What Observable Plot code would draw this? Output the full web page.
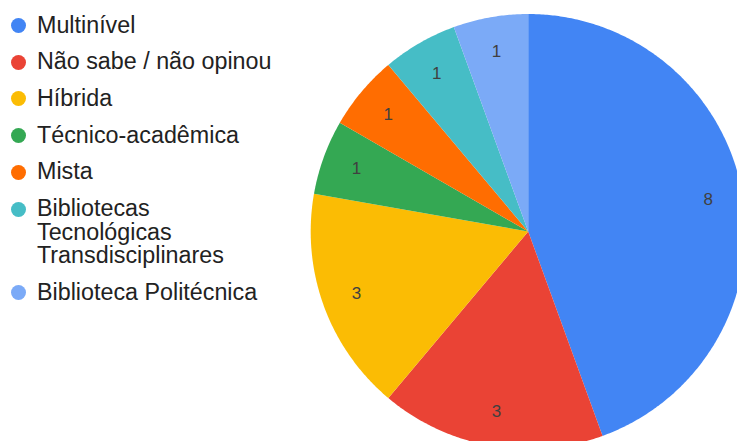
<!DOCTYPE html>
<html>
<head>
<meta charset="utf-8">
<script src="https://cdn.jsdelivr.net/npm/d3@7"></script>
<script src="https://cdn.jsdelivr.net/npm/@observablehq/plot@0.6"></script>
<style>
  html, body { margin: 0; padding: 0; background: #fff; overflow: hidden; }
  #wrap { position: relative; width: 737px; height: 441px; overflow: hidden; }
  #chart { position: absolute; left: 0; top: 0; }
  #chart svg { overflow: hidden; }
  #legend { position: absolute; left: 0; top: 13.6px; font-family: "Liberation Sans", Arial, sans-serif; font-size: 23.3px; line-height: 23.5px; color: #222; }
  .item { position: relative; padding-left: 37px; margin-bottom: 13.2px; white-space: nowrap; }
  .dot { position: absolute; left: 10.5px; top: 4.5px; width: 15px; height: 15px; border-radius: 50%; }
</style>
</head>
<body>
<div id="wrap">
  <div id="chart"></div>
  <div id="legend"></div>
</div>
<script>
const categories = ["Multinível", "Não sabe / não opinou", "Híbrida", "Técnico-acadêmica", "Mista", "Bibliotecas Tecnológicas Transdisciplinares", "Biblioteca Politécnica"];
const legendLabels = ["Multinível", "Não sabe / não opinou", "Híbrida", "Técnico-acadêmica", "Mista", "Bibliotecas<br>Tecnológicas<br>Transdisciplinares", "Biblioteca Politécnica"];
const values = [8, 3, 3, 1, 1, 1, 1];
const colors = ["#4285F4", "#EA4335", "#FBBC04", "#34A853", "#FF6D01", "#46BDC6", "#7BAAF7"];

const arcs = d3.pie().sort(null).value(d => d)(values);

const polyRows = [];
const labelRows = [];
arcs.forEach((a, i) => {
  const cat = categories[i];
  polyRows.push({cat, x: 0, y: 0});
  const n = Math.max(2, Math.ceil((a.endAngle - a.startAngle) / (Math.PI / 360)));
  for (let k = 0; k <= n; k++) {
    const t = a.startAngle + (a.endAngle - a.startAngle) * k / n;
    polyRows.push({cat, x: Math.sin(t), y: Math.cos(t)});
  }
  const m = (a.startAngle + a.endAngle) / 2;
  labelRows.push({cat, x: 0.84 * Math.sin(m), y: 0.84 * Math.cos(m), label: String(values[i])});
});

const cx = 527.7, cy = 231, r = 217.5;

const chart = Plot.plot({
  width: 737,
  height: 441,
  margin: 0,
  style: {fontFamily: "'Liberation Sans', Arial, sans-serif", background: "transparent"},
  x: {domain: [-1, 1], range: [cx - r, cx + r], axis: null},
  y: {domain: [-1, 1], range: [cy + r, cy - r], axis: null},
  color: {domain: categories, range: colors},
  marks: [
    Plot.line(polyRows, {x: "x", y: "y", z: "cat", fill: "cat", stroke: null, curve: "linear-closed"}),
    Plot.text(labelRows, {x: "x", y: "y", text: "label", fill: "#404040", fontSize: 17})
  ]
});
document.getElementById("chart").appendChild(chart);

const legend = document.getElementById("legend");
legendLabels.forEach((lab, i) => {
  const div = document.createElement("div");
  div.className = "item";
  div.innerHTML = `<span class="dot" style="background:${colors[i]}"></span>${lab}`;
  legend.appendChild(div);
});
</script>
</body>
</html>
